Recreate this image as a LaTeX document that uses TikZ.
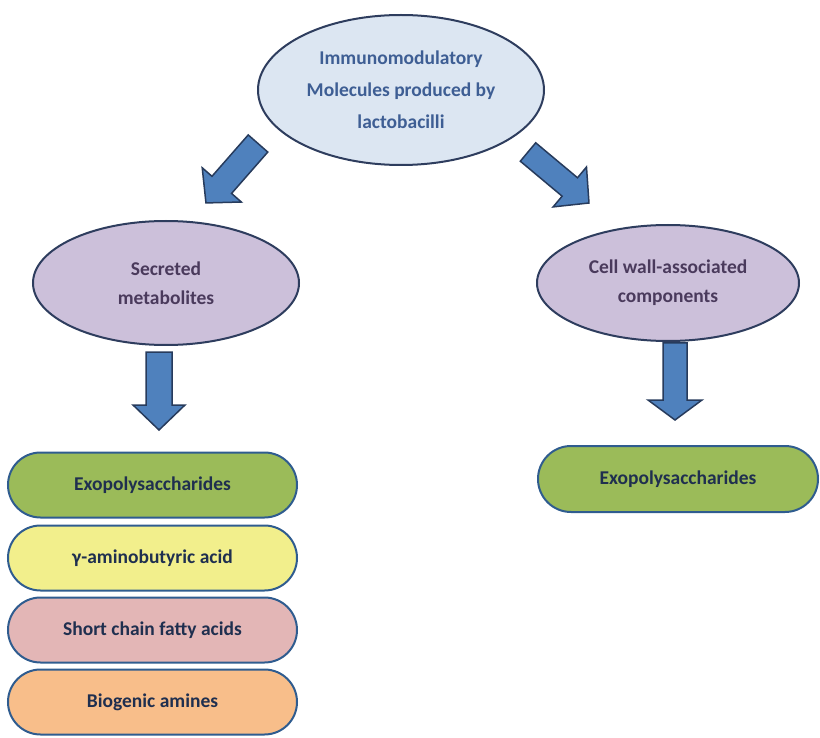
\documentclass[tikz,border=0pt]{standalone}
\usepackage{fontspec}
\setmainfont{Carlito}
\usetikzlibrary{shapes.geometric,shapes.misc}
\definecolor{topfill}{HTML}{DCE6F2}
\definecolor{topline}{HTML}{2E3D5E}
\definecolor{toptext}{HTML}{3E5E94}
\definecolor{lavfill}{HTML}{CCC0DA}
\definecolor{lavtext}{HTML}{4A3A5C}
\definecolor{pillline}{HTML}{2F5C8F}
\definecolor{pilltext}{HTML}{1F2F4F}
\definecolor{pgreen}{HTML}{9BBB59}
\definecolor{pyellow}{HTML}{F2EF8C}
\definecolor{ppink}{HTML}{E3B6B6}
\definecolor{porange}{HTML}{F8BE8A}
\definecolor{arrfill}{HTML}{4F81BD}
\definecolor{arrline}{HTML}{273B5C}
\tikzset{
  topell/.style={ellipse, draw=topline, line width=2pt, fill=topfill, text=toptext,
    font=\bfseries\fontsize{19.5}{32}\selectfont, align=center, inner sep=0pt},
  lavell/.style={ellipse, draw=topline, line width=2pt, fill=lavfill, text=lavtext,
    font=\bfseries\fontsize{19.5}{29}\selectfont, align=center, inner sep=0pt},
  pill/.style={rounded rectangle, draw=pillline, line width=2pt, text=pilltext,
    font=\bfseries\fontsize{19.5}{22}\selectfont, minimum width=289pt, minimum height=65pt, inner sep=0pt},
  barrow/.style={draw=arrline, line width=1.5pt, fill=arrfill, line join=miter}
}
\newcommand{\blockarr}[7]{%
  \begin{scope}[shift={(#1,#2)},rotate=#3]
    \draw[barrow] (0,-#5) -- ({#4-#7},-#5) -- ({#4-#7},-#6) -- (#4,0) -- ({#4-#7},#6) -- ({#4-#7},#5) -- (0,#5) -- cycle;
  \end{scope}}
\begin{document}
\begin{tikzpicture}[x=1pt,y=-1pt]
\useasboundingbox (0,0) rectangle (820,738);
\node[topell, minimum width=286pt, minimum height=150pt] (top) at (401,90)
  {Immunomodulatory\\Molecules produced by\\lactobacilli};
\node[lavell, minimum width=266pt, minimum height=124pt] (sec) at (166,283)
  {Secreted\\metabolites};
\node[lavell, minimum width=262pt, minimum height=116pt] (cw) at (668,283)
  {Cell wall-associated\\components};
\node[pill, fill=pgreen] (p1) at (152.5,485) {Exopolysaccharides};
\node[pill, fill=pyellow] (p2) at (152.5,558) {γ-aminobutyric acid};
\node[pill, fill=ppink] (p3) at (152.5,630) {Short chain fatty acids};
\node[pill, fill=porange] (p4) at (152.5,702) {Biogenic amines};
\node[pill, fill=pgreen, minimum width=280pt, minimum height=66pt] (r1) at (678,479) {Exopolysaccharides};
\blockarr{258}{143.5}{228.8}{79}{13}{26}{24}
\blockarr{528}{152}{-39.9}{79.5}{12}{26}{25}
\blockarr{159}{352}{-90}{78}{13}{26}{25}
\blockarr{675}{343}{-90}{77}{12}{27}{20}
\end{tikzpicture}
\end{document}
